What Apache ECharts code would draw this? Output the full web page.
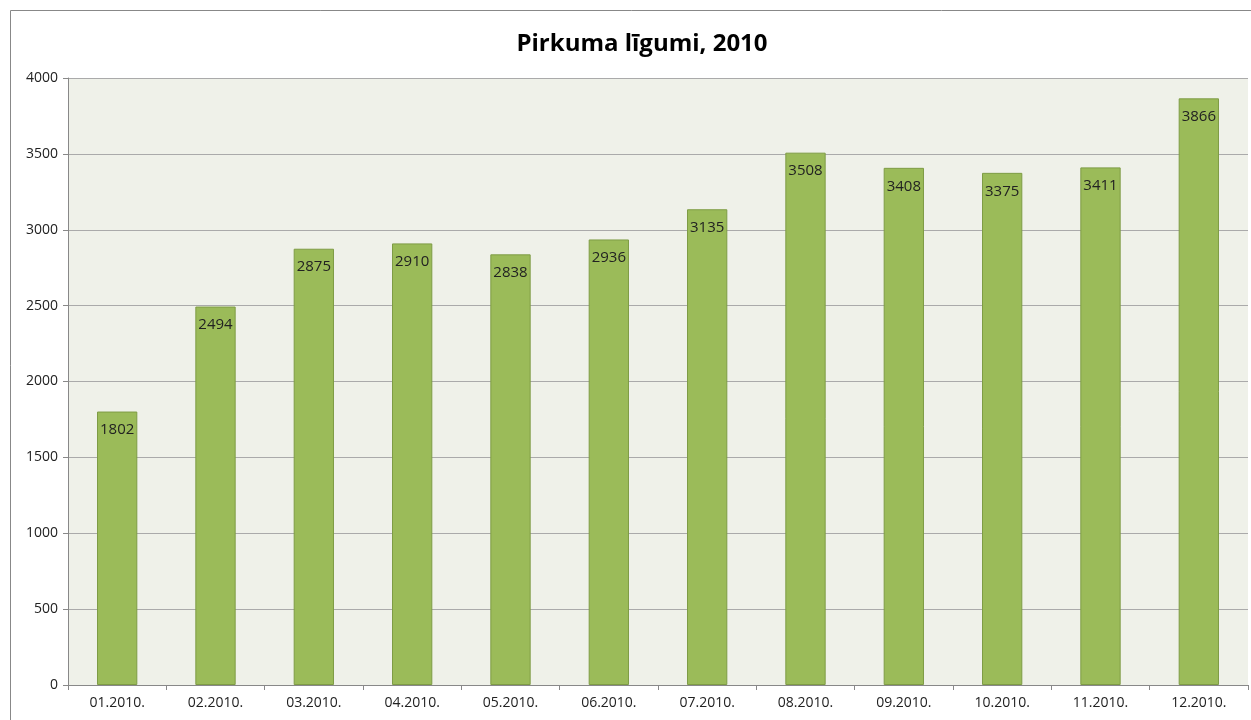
<!DOCTYPE html>
<html><head><meta charset="utf-8">
<script src="https://cdn.jsdelivr.net/npm/echarts@6/dist/echarts.min.js"></script>
<style>html,body{margin:0;padding:0;background:#fff}#c{width:1251px;height:720px}</style>
</head><body><div id="c"></div>
<script>
const categories = ['01.2010.','02.2010.','03.2010.','04.2010.','05.2010.','06.2010.','07.2010.','08.2010.','09.2010.','10.2010.','11.2010.','12.2010.'];
const values = [1802,2494,2875,2910,2838,2936,3135,3508,3408,3375,3411,3866];
const chart = echarts.init(document.getElementById('c'));
chart.setOption({
  animation:false,
  title:{text:'Pirkuma līgumi, 2010',left:637,top:27,textAlign:'center',textStyle:{fontFamily:'Open Sans',fontSize:24,fontWeight:'bold',color:'#000'}},
  graphic:[{type:'rect',shape:{x:10.5,y:10.5,width:1260,height:740},style:{fill:null,stroke:'#888',lineWidth:1},z:-1}],
  grid:{left:68,right:3,top:78,bottom:35,show:true,backgroundColor:'#EFF1E9',borderWidth:0},
  xAxis:{type:'category',data:categories,
    axisLine:{lineStyle:{color:'#888'}},axisTick:{show:true,length:5,lineStyle:{color:'#888'}},
    axisLabel:{color:'#222',fontSize:14,fontFamily:'Open Sans',margin:11}},
  yAxis:{type:'value',min:0,max:4000,interval:500,
    axisLine:{show:true,lineStyle:{color:'#888'}},axisTick:{show:true,length:5,lineStyle:{color:'#888'}},
    splitLine:{lineStyle:{color:'#aaa'}},
    axisLabel:{color:'#222',fontSize:14,fontFamily:'Open Sans',margin:10,formatter:v=>String(v)}},
  series:[{type:'bar',data:values,barCategoryGap:'59%',
    itemStyle:{color:'#9BBB59',borderColor:'#7E9C45',borderWidth:1},
    label:{show:true,position:'insideTop',distance:11,color:'#222',fontSize:15,fontFamily:'Open Sans'}}]
});
</script></body></html>
